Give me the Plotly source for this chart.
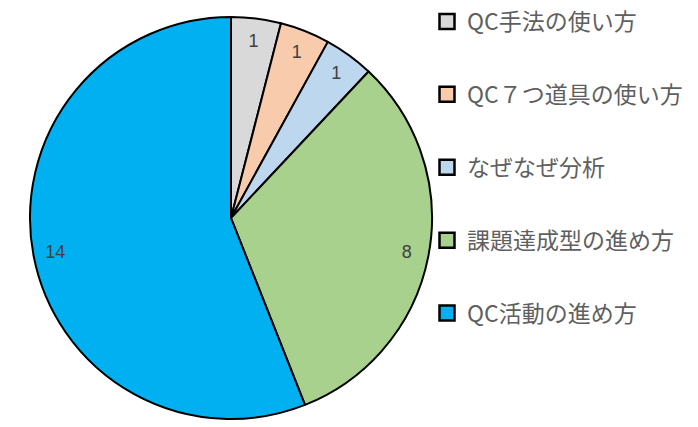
import plotly.graph_objects as go

labels = ["QC手法の使い方", "QC７つ道具の使い方", "なぜなぜ分析", "課題達成型の進め方", "QC活動の進め方"]
values = [1, 1, 1, 8, 14]
colors = ["#D9D9D9", "#F8CBAD", "#BDD7EE", "#A9D18E", "#00B0F0"]

W, H = 698, 427
dom = dict(x=[27 / W, 435 / W], y=[1 - 419 / H, 1 - 17 / H])

fig = go.Figure()
fig.add_trace(go.Pie(
    labels=labels, values=values, sort=False, direction="clockwise", rotation=0,
    marker=dict(colors=colors, line=dict(color="black", width=2)),
    textinfo="none", showlegend=False, hoverinfo="label+value", domain=dom,
))
# transparent ring carrying the value labels near the outer edge
fig.add_trace(go.Pie(
    labels=labels, values=values, sort=False, direction="clockwise", rotation=0,
    hole=0.78,
    marker=dict(colors=["rgba(0,0,0,0)"] * len(values), line=dict(width=0)),
    textinfo="value", textposition="inside", insidetextorientation="horizontal",
    textfont=dict(color="#404040", size=18, family="Liberation Sans"),
    showlegend=False, hoverinfo="skip", domain=dom,
))
for i, (lab, col) in enumerate(zip(labels, colors)):
    fig.add_trace(go.Scatter(
        x=[None], y=[None], mode="markers", name=lab, legendgroup=str(i),
        marker=dict(symbol="square", size=15, color=col, line=dict(color="black", width=2.5)),
    ))

fig.update_layout(
    width=W, height=H, margin=dict(l=0, r=0, t=0, b=0),
    paper_bgcolor="white", plot_bgcolor="white",
    xaxis=dict(visible=False), yaxis=dict(visible=False),
    legend=dict(
        x=427 / W, y=1, xanchor="left", yanchor="top",
        font=dict(family="Noto Sans CJK JP", size=23, color="#5f5f5f"),
        tracegroupgap=40, itemwidth=30, bgcolor="rgba(0,0,0,0)",
    ),
)
fig.write_html("out.html", config={"displayModeBar": False},
               post_script="document.body.style.margin='0';")
